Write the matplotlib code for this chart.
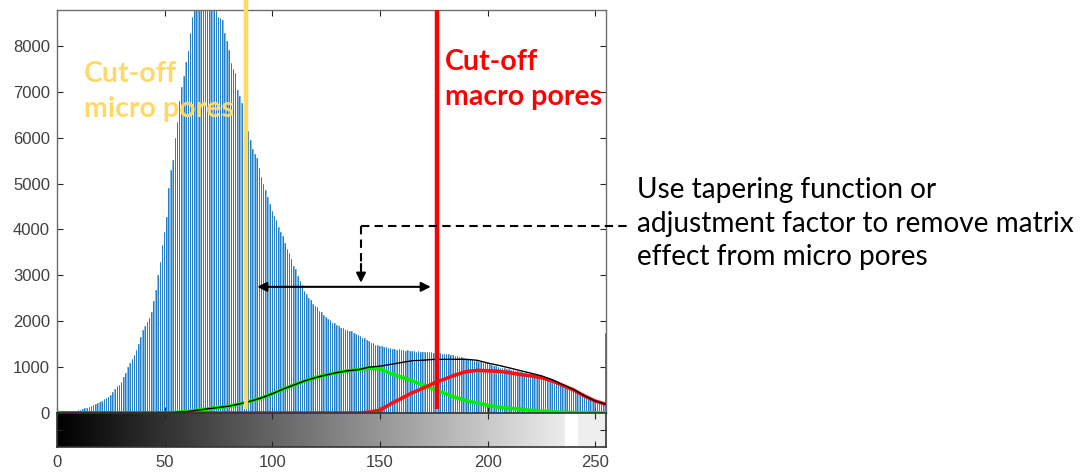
import numpy as np
import matplotlib
matplotlib.use("Agg")
import matplotlib.pyplot as plt

# ---------------- data ----------------
bins = list(range(256))
counts = [
    0, 0, 0, 5, 10, 15, 25, 30, 40, 45,
    55, 65, 85, 105, 115, 130, 160, 180, 200, 220,
    240, 270, 300, 320, 340, 400, 450, 520, 580, 620,
    680, 780, 880, 1010, 1100, 1180, 1260, 1380, 1500, 1650,
    1810, 1900, 1980, 2080, 2200, 2450, 2680, 3000, 3300, 3660,
    3950, 4280, 4900, 5300, 5520, 6000, 6350, 6800, 7100, 7350,
    7650, 7900, 8280, 8640, 8900, 9200, 9500, 9700, 9900, 10000,
    10050, 10000, 9900, 9700, 9400, 8640, 8600, 8570, 8280, 8100,
    7910, 7630, 7500, 7400, 7040, 6900, 6750, 6750, 6450, 6150,
    5950, 5750, 5650, 5550, 5350, 5150, 5000, 4850, 4700, 4550,
    4400, 4300, 4200, 4050, 3950, 3850, 3700, 3580, 3480, 3350,
    3200, 3130, 2980, 2870, 2790, 2660, 2600, 2500, 2460, 2380,
    2330, 2300, 2230, 2200, 2130, 2100, 2040, 2020, 1970, 1960,
    1910, 1900, 1860, 1860, 1820, 1810, 1780, 1780, 1740, 1720,
    1690, 1680, 1640, 1630, 1590, 1580, 1530, 1530, 1490, 1480,
    1450, 1450, 1430, 1440, 1410, 1420, 1390, 1400, 1380, 1390,
    1370, 1380, 1360, 1370, 1350, 1360, 1350, 1340, 1350, 1330,
    1340, 1330, 1320, 1330, 1320, 1310, 1320, 1300, 1310, 1290,
    1290, 1280, 1280, 1270, 1260, 1250, 1240, 1220, 1210, 1200,
    1180, 1170, 1160, 1150, 1140, 1130, 1120, 1110, 1100, 1090,
    1080, 1060, 1050, 1030, 1020, 1000, 990, 980, 970, 960,
    950, 940, 930, 920, 910, 900, 890, 880, 870, 860,
    850, 845, 835, 825, 810, 800, 785, 770, 755, 735,
    715, 690, 665, 640, 620, 600, 575, 555, 530, 505,
    480, 460, 435, 410, 390, 370, 345, 320, 300, 280,
    260, 240, 225, 210, 200, 1750,
]

curve_x = [0, 5, 10, 15, 20, 25, 30, 35, 40, 45, 50, 55, 60, 65, 70, 75, 80, 85,
           90, 95, 100, 105, 110, 115, 120, 125, 130, 135, 140, 145, 150, 155,
           160, 165, 170, 175, 180, 185, 190, 195, 200, 205, 210, 215, 220, 225,
           230, 235, 240, 245, 250, 255]
green_vals = [0, 0, 0, 0, 0, 0, 0, 0, 0, 0, 0, 10, 30, 60, 90, 120, 150, 200,
              260, 330, 420, 520, 610, 700, 770, 830, 880, 920, 945, 980, 960, 860,
              780, 700, 610, 520, 430, 340, 270, 220, 170, 130, 105, 85, 60, 40,
              25, 15, 10, 5, 2, 0]
red_vals = [0, 0, 0, 0, 0, 0, 0, 0, 0, 0, 0, 0, 0, 0, 0, 0, 0, 0,
            0, 0, 0, 0, 0, 0, 0, 0, 0, 0, 0, 20, 60, 200,
            320, 440, 540, 650, 740, 830, 900, 930, 920, 910, 880, 840, 810, 770,
            700, 600, 500, 370, 260, 190]

x_ticks = [0, 50, 100, 150, 200, 250]
y_ticks = [0, 1000, 2000, 3000, 4000, 5000, 6000, 7000, 8000]

cut_micro = 88
cut_macro = 176.4

# ---------------- figure ----------------
W, H = 1083, 473
fig = plt.figure(figsize=(W / 100, H / 100), dpi=100)

def fx(px):
    return px / W

def fy(py):
    return 1 - py / H

ax = fig.add_axes([fx(57), fy(413), fx(606) - fx(57), fy(10) - fy(413)])
cax = fig.add_axes([fx(57), fy(447), fx(606) - fx(57), fy(413) - fy(447)])

axis_col = "#262626"
tick_col = "#404040"

bx = np.array(bins, dtype=float)
ax.bar(bx, counts, width=0.72, color="#86BCE6", linewidth=0, zorder=1)
ax.vlines(bx - 0.24, 0, counts, color="#0A6DBA", lw=0.55, zorder=2)

green = np.array(green_vals, dtype=float)
red = np.array(red_vals, dtype=float)
ax.plot(curve_x, green, color="#00EE00", lw=2.6, zorder=3, solid_capstyle="butt")
ax.plot(curve_x, red, color="#FF1010", lw=2.6, zorder=4, solid_capstyle="butt")
ax.plot(curve_x, green + red, color="black", lw=1.0, zorder=5)

ax.plot([cut_micro, cut_micro], [80, 9000], color="#FFD966", lw=3.2, zorder=6,
        clip_on=False, solid_capstyle="butt")
ax.plot([cut_macro, cut_macro], [80, 8784], color="#FF0000", lw=3.2, zorder=6,
        solid_capstyle="butt")

# annotation arrows
ax.annotate("", xy=(93, 2750), xytext=(173.6, 2750),
            arrowprops=dict(arrowstyle="<|-|>", color="black", lw=1.5,
                            mutation_scale=14, shrinkA=0, shrinkB=0), zorder=7)
ax.plot([141.2, 141.2], [4076, 3150], color="black", lw=1.5, ls=(0, (4, 2.5)),
        zorder=7)
ax.plot([141.2, 266], [4076, 4076], color="black", lw=1.5, ls=(0, (4, 2.5)),
        zorder=7, clip_on=False)
ax.annotate("", xy=(141.2, 2840), xytext=(141.2, 3250),
            arrowprops=dict(arrowstyle="-|>", color="black", lw=1.5,
                            mutation_scale=14, shrinkA=0, shrinkB=0), zorder=7)

ax.set_xlim(0, 255)
ax.set_ylim(0, 8784)
ax.set_xticks(x_ticks)
ax.set_xticklabels([])
ax.set_yticks(y_ticks)
ax.set_yticklabels([str(v) for v in y_ticks])
ax.tick_params(direction="in", top=True, right=True, length=4, width=0.8,
               colors=axis_col, labelcolor=tick_col, labelsize=12, pad=5)
for lab in ax.get_yticklabels():
    lab.set_family("Liberation Sans")
for s in ax.spines.values():
    s.set_color("#6E6E6E")
    s.set_linewidth(1.0)

# grayscale bar
levels = np.linspace(0, 1, 256)
levels[237:243] = 1.0
levels[243:] = 0.93
cax.imshow(levels[np.newaxis, :], cmap="gray", vmin=0, vmax=1, aspect="auto",
           extent=[0, 255, 0, 1], interpolation="nearest")
cax.set_xlim(0, 255)
cax.set_ylim(0, 1)
cax.set_xticks(x_ticks)
cax.set_xticklabels([str(v) for v in x_ticks])
cax.set_yticks([0.5])
cax.set_yticklabels([])
cax.tick_params(direction="in", top=True, right=True, length=4, width=0.8,
                colors=axis_col, labelcolor=tick_col, labelsize=12, pad=6)
for lab in cax.get_xticklabels():
    lab.set_family("Liberation Sans")
for s in cax.spines.values():
    s.set_color("#333333")
    s.set_linewidth(1.2)

# texts (placed line by line on their baselines)
def lines(x, baselines, strings, **kw):
    for b, s in zip(baselines, strings):
        fig.text(fx(x), fy(b), s, va="baseline", ha="left", **kw)

lines(84, [82, 117], ["Cut-off", "micro pores"], color="#FFD966",
      fontsize=20.5, fontweight="bold", family="Lato")
lines(445, [70, 105], ["Cut-off", "macro pores"], color="#FF0000",
      fontsize=20.5, fontweight="bold", family="Lato")
lines(637, [198, 232, 265],
      ["Use tapering function or", "adjustment factor to remove matrix",
       "effect from micro pores"],
      color="black", fontsize=20.2, family="Lato")

fig.savefig("out.png", dpi=100)
